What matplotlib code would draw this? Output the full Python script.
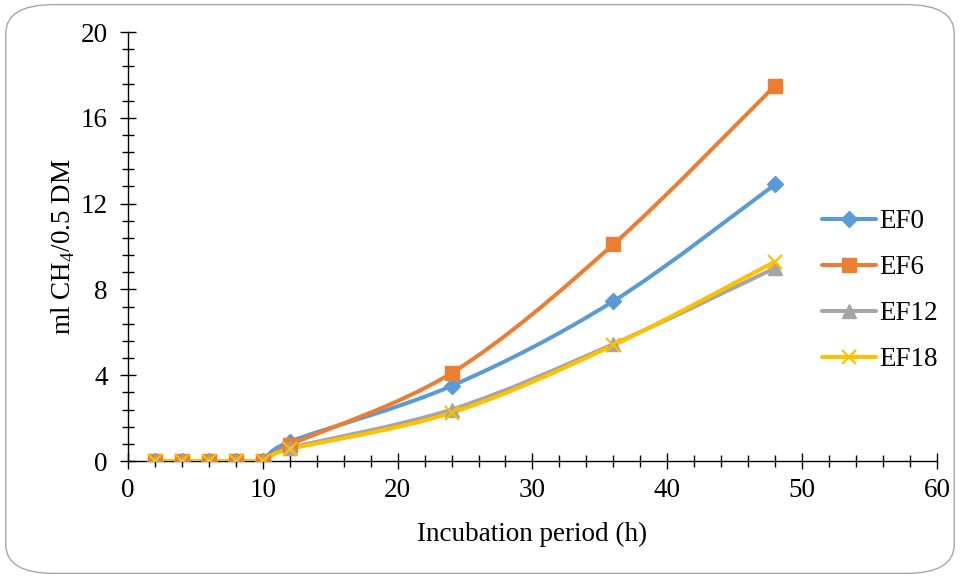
import numpy as np
import matplotlib
matplotlib.use('Agg')
import matplotlib.pyplot as plt
from matplotlib.path import Path
from matplotlib.patches import PathPatch, FancyBboxPatch
from matplotlib.lines import Line2D
from matplotlib.ticker import MultipleLocator

plt.rcParams['font.family'] = ['Liberation Serif', 'DejaVu Serif']
plt.rcParams['mathtext.fontset'] = 'custom'
plt.rcParams['mathtext.rm'] = 'Liberation Serif'

HOURS = [2, 4, 6, 8, 10, 12, 24, 36, 48]
EF0  = [0, 0, 0, 0, 0, 0.9, 3.5, 7.45, 12.9]
EF6  = [0, 0, 0, 0, 0, 0.75, 4.1, 10.1, 17.5]
EF12 = [0, 0, 0, 0, 0, 0.6, 2.4, 5.45, 9.0]
EF18 = [0, 0, 0, 0, 0, 0.55, 2.25, 5.4, 9.3]
LABELS = ['EF0', 'EF6', 'EF12', 'EF18']
COLORS = ['#5B9BD5', '#ED7D31', '#A5A5A5', '#FFC000']
MARKERS = ['D', 's', '^', 'x']
MSIZE = [8.5, 10, 10, 10]
FS = 19.5


def smooth_path(x, y):
    # smoothed line as cubic Bezier segments (Catmull-Rom style, flat at plateaus)
    p = np.column_stack([x, y]).astype(float)
    n = len(p)
    tang = []
    for i in range(n):
        a = p[i - 1] if i > 0 else p[i]
        b = p[i + 1] if i < n - 1 else p[i]
        t = (b - a) / 6
        if 0 < i < n - 1 and (p[i, 1] - p[i - 1, 1]) * (p[i + 1, 1] - p[i, 1]) <= 0:
            t[1] = 0
        tang.append(t)
    verts = [p[0]]
    codes = [Path.MOVETO]
    for i in range(n - 1):
        verts += [p[i] + tang[i], p[i + 1] - tang[i + 1], p[i + 1]]
        codes += [Path.CURVE4] * 3
    return Path(verts, codes)


fig = plt.figure(figsize=(9.6, 5.78), dpi=100)
border = FancyBboxPatch((0.006, 0.008), 0.988, 0.984, transform=fig.transFigure,
                        boxstyle='round,pad=0,rounding_size=0.05',
                        facecolor='white', edgecolor='#A6A6A6', lw=1.0, zorder=-5)
fig.patches.append(border)

ax = fig.add_axes([0.1333, 0.2024, 0.8427, 0.7422])
ax.set_facecolor('none')

handles = []
for ys, lbl, col, mk, ms in zip([EF0, EF6, EF12, EF18], LABELS, COLORS, MARKERS, MSIZE):
    mew = 1.6 if mk == 'x' else 1
    ax.add_patch(PathPatch(smooth_path(HOURS, ys), facecolor='none', edgecolor=col,
                           lw=2.9, capstyle='round', zorder=3))
    ax.plot(HOURS, ys, ls='none', marker=mk, ms=ms, color=col,
            mec=col, mew=mew, zorder=4)
    handles.append(Line2D([], [], color=col, lw=2.9, marker=mk, ms=ms, mew=mew,
                          solid_capstyle='round', label=lbl))

ax.set_xlim(0, 60)
ax.set_ylim(0, 20)
ax.xaxis.set_major_locator(MultipleLocator(10))
ax.xaxis.set_minor_locator(MultipleLocator(2))
ax.yaxis.set_major_locator(MultipleLocator(4))
ax.yaxis.set_minor_locator(MultipleLocator(0.8))
ax.tick_params(which='major', direction='inout', length=11, width=1, labelsize=FS)
ax.tick_params(axis='y', which='major', pad=9)
ax.tick_params(axis='x', which='major', pad=7)
ax.tick_params(which='minor', direction='inout', length=9, width=1)
for sp in ['top', 'right']:
    ax.spines[sp].set_visible(False)
for sp in ['left', 'bottom']:
    ax.spines[sp].set_linewidth(1)

ax.set_xlabel('Incubation period (h)', fontsize=FS, labelpad=13)
ax.set_ylabel('ml CH$_4$/0.5 DM', fontsize=FS, labelpad=3)

ax.legend(handles=handles, loc='center left', bbox_to_anchor=(0.845, 0.497),
          bbox_transform=fig.transFigure, borderaxespad=0,
          frameon=False, fontsize=FS, handlelength=2.0, handletextpad=0.1,
          labelspacing=0.77)

fig.savefig('out.png', dpi=100)
